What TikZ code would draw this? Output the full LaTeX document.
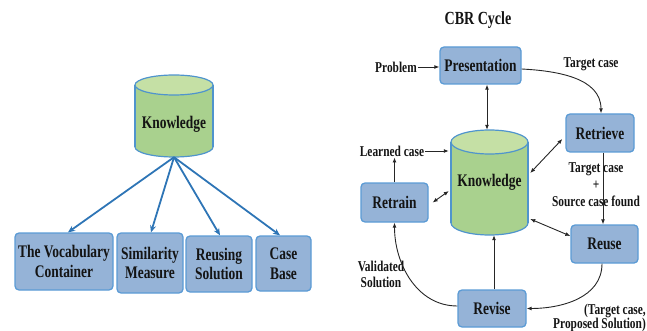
\documentclass[tikz,border=0pt]{standalone}
\usepackage{fontspec}
\setmainfont{Liberation Serif}[FakeStretch=0.76]
\usetikzlibrary{arrows.meta}
\definecolor{boxfill}{HTML}{95B3D7}
\definecolor{boxline}{HTML}{5B9BD5}
\definecolor{cyltop}{HTML}{C5E0A5}
\definecolor{cylbody}{HTML}{A9D18E}
\definecolor{cylline}{HTML}{4F94CD}
\definecolor{arrblue}{HTML}{2E75B6}
\definecolor{txt}{HTML}{141414}
\begin{document}
\begin{tikzpicture}[x=1pt,y=-1pt,
  box/.style={draw=boxline, fill=boxfill, line width=1.3pt, rounded corners=4pt, inner sep=0pt,
    font=\fontsize{17.7}{19.5}\selectfont\bfseries, text=txt, align=center},
  cyltext/.style={inner sep=0pt, font=\fontsize{17.7}{19.5}\selectfont\bfseries, text=txt},
  lbl/.style={font=\fontsize{15}{17}\selectfont\bfseries, text=txt, inner sep=1pt, align=center},
  cylborder/.style={draw=cylline, line width=1.2pt},
  barr/.style={draw=arrblue, line width=1.8pt, -{Stealth[length=7pt,width=6pt]}},
  karr/.style={draw=black!85, line width=0.9pt, -{Latex[length=5pt,width=4pt]}},
  kdarr/.style={draw=black!85, line width=0.9pt, {Latex[length=5pt,width=4pt]}-{Latex[length=5pt,width=4pt]}},
]
\useasboundingbox (0,0) rectangle (647,331);

% ---------- left cylinder ----------
\fill[cylbody, cylborder] (174,147) ellipse [x radius=39pt, y radius=10pt];
\fill[cylbody] (135,85) rectangle (213,147);
\draw[cylborder] (135,85) -- (135,147) (213,85) -- (213,147);
\filldraw[fill=cyltop, cylborder] (174,85) ellipse [x radius=39pt, y radius=10pt];
\node[cyltext, minimum width=78pt, minimum height=66pt] (kl) at (174,124) {Knowledge};

% ---------- left boxes ----------
\node[box, minimum width=98pt, minimum height=57pt] (voc) at (64,261.5) {The Vocabulary\\Container};
\node[box, minimum width=66pt, minimum height=60pt] (sim) at (150,263) {Similarity\\Measure};
\node[box, minimum width=66pt, minimum height=56pt] (rsol) at (219,264) {Reusing\\Solution};
\node[box, minimum width=55pt, minimum height=55pt] (cb) at (283.5,263.5) {Case\\Base};

\draw[barr] (kl.south) -- ([xshift=4pt]voc.north);
\draw[barr] (kl.south) -- ([xshift=1pt]sim.north);
\draw[barr] (kl.south) -- ([xshift=1pt]rsol.north);
\draw[barr] (kl.south) -- ([xshift=-3.5pt]cb.north);

% ---------- right cylinder ----------
\fill[cylbody, cylborder] (489.5,223) ellipse [x radius=38.5pt, y radius=12pt];
\fill[cylbody] (451,142) rectangle (528,223);
\draw[cylborder] (451,142) -- (451,223) (528,142) -- (528,223);
\filldraw[fill=cyltop, cylborder] (489.5,142) ellipse [x radius=38.5pt, y radius=12pt];
\node[cyltext, minimum width=77pt, minimum height=105pt] (kr) at (489.5,182.5) {Knowledge};

% ---------- title ----------
\node[font=\fontsize{18.5}{20}\selectfont\bfseries, text=txt, inner sep=0pt] (title) at (478,20) {CBR Cycle};

% ---------- right boxes ----------
\node[box, minimum width=81pt, minimum height=37pt] (pres) at (480.5,65.5) {Presentation};
\node[box, minimum width=68pt, minimum height=38pt] (retr) at (600,133) {Retrieve};
\node[box, minimum width=67pt, minimum height=39pt] (rt) at (394.5,202.5) {Retrain};
\node[box, minimum width=67pt, minimum height=38pt] (reuse) at (604.5,244) {Reuse};
\node[box, minimum width=68pt, minimum height=37pt] (rev) at (492,308.5) {Revise};

% ---------- labels ----------
\node[lbl] (prob) at (396,67) {Problem};
\node[lbl] (tc) at (591,64) {Target case};
\node[lbl] (lc) at (392,151) {Learned case};
\node[lbl] (tsc) at (596,185) {Target case\\+\\Source case found};
\node[lbl, font=\fontsize{15}{16}\selectfont\bfseries] (vs) at (381,274) {Validated\\Solution};
\node[lbl, font=\fontsize{15}{13.5}\selectfont\bfseries, align=right, anchor=east] (tps) at (647,318) {(Target case,\\Proposed Solution)};

% ---------- right connectors ----------
\draw[karr] (prob.east) -- (prob.east -| pres.west);
\draw[karr] ([yshift=-3.5pt]pres.east) to[out=-3, in=90] ([xshift=1pt]retr.north);
\draw[kdarr] ([xshift=6.5pt]pres.south) -- ([xshift=-2.5pt]kr.north);
\draw[karr] (lc.east) -- ([xshift=-2pt]lc.east -| kr.west);
\draw[karr] (rt.north) -- (rt.north |- lc.south);
\draw[kdarr] ([xshift=4pt]rt.east) -- ([xshift=-2pt,yshift=-8.5pt]kr.west);
\draw[kdarr] ([xshift=2pt,yshift=9.5pt]kr.east) -- ([xshift=-3pt,yshift=-6pt]retr.west);
\draw[karr] ([xshift=3pt]retr.south) -- ([xshift=-1.5pt]reuse.north);
\draw[kdarr] ([xshift=2pt,yshift=-36.5pt]kr.east) -- ([yshift=8pt]reuse.west);
\draw[karr] ([xshift=-2.5pt]reuse.south) to[out=-90, in=0] (rev.east);
\draw[karr] ([xshift=2pt]rev.north) -- ([xshift=4.5pt]kr.south);
\draw[karr] ([yshift=2.5pt]rev.west) to[out=180, in=-90] (rt.south);
\end{tikzpicture}
\end{document}
